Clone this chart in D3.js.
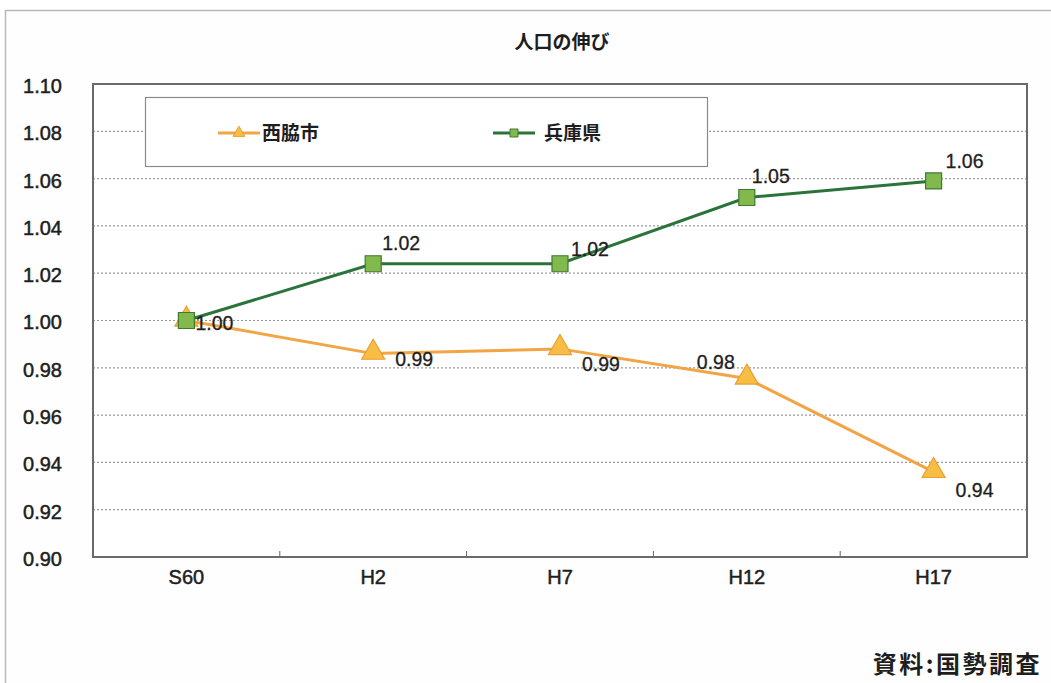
<!DOCTYPE html>
<html>
<head>
<meta charset="utf-8">
<script src="https://cdn.jsdelivr.net/npm/d3@7"></script>
<style>
  html, body { margin: 0; padding: 0; background: #ffffff; }
  svg { display: block; }
  text { font-family: "Liberation Sans", Arial, "Noto Sans CJK JP", sans-serif; }
  .jp { font-family: "Noto Sans CJK JP", sans-serif; }
</style>
</head>
<body>
<svg id="chart" width="1051" height="683"></svg>
<script>
// Census years (Showa 60 → Heisei 17)
const categories = ["S60", "H2", "H7", "H12", "H17"];
// Population growth index relative to S60
const nishiwaki = [1.000, 0.986, 0.988, 0.9755, 0.936];
const hyogo = [1.000, 1.024, 1.024, 1.052, 1.059];
const seriesNames = ["西脇市", "兵庫県"];
const yTicks = [0.90, 0.92, 0.94, 0.96, 0.98, 1.00, 1.02, 1.04, 1.06, 1.08, 1.10];

const svg = d3.select("#chart");
const W = 1051, H = 683;
const plot = { left: 93, top: 84, right: 1027, bottom: 557 };
const ink = "#1e1e1e";
const latin = "Liberation Sans, Arial, sans-serif";

// outer frame
svg.append("rect").attr("x", 5.5).attr("y", 10.5).attr("width", W).attr("height", H)
  .attr("fill", "#fefefe").attr("stroke", "#b8b8b8").attr("stroke-width", 1.5);

const x = d3.scaleBand().domain(categories).range([plot.left, plot.right]);
const y = d3.scaleLinear().domain([0.90, 1.10]).range([plot.bottom, plot.top]);

// plot area
svg.append("rect").attr("x", plot.left).attr("y", plot.top)
  .attr("width", plot.right - plot.left).attr("height", plot.bottom - plot.top)
  .attr("fill", "#ffffff");

// dotted gridlines
svg.append("g").selectAll("line").data(yTicks.filter(t => t > 0.901 && t < 1.099)).join("line")
  .attr("x1", plot.left).attr("x2", plot.right)
  .attr("y1", d => y(d)).attr("y2", d => y(d))
  .attr("stroke", "#9a9a9a").attr("stroke-width", 1.2).attr("stroke-dasharray", "2,2");

// y axis labels
const yAxis = d3.axisLeft(y).tickValues(yTicks).tickFormat(d3.format(".2f")).tickSize(0).tickPadding(31);
const gy = svg.append("g").attr("transform", `translate(${plot.left},2)`).call(yAxis);
gy.select(".domain").remove();
gy.selectAll("text").attr("font-size", 20).attr("fill", ink)
  .attr("stroke", ink).attr("stroke-width", 0.5)
  .attr("font-family", latin);

// x axis: ticks between categories, labels below
const xAxis = d3.axisBottom(x).tickSize(0).tickPadding(13);
const gx = svg.append("g").attr("transform", `translate(0,${plot.bottom})`).call(xAxis);
gx.select(".domain").remove();
gx.selectAll("text").attr("font-size", 20).attr("fill", ink)
  .attr("stroke", ink).attr("stroke-width", 0.5)
  .attr("font-family", latin);
svg.append("g").selectAll("line").data(categories.slice(1)).join("line")
  .attr("x1", d => x(d)).attr("x2", d => x(d))
  .attr("y1", plot.bottom).attr("y2", plot.bottom - 6)
  .attr("stroke", "#666").attr("stroke-width", 1);

// plot border
svg.append("rect").attr("x", plot.left).attr("y", plot.top)
  .attr("width", plot.right - plot.left).attr("height", plot.bottom - plot.top)
  .attr("fill", "none").attr("stroke", "#6a6a6a").attr("stroke-width", 2);

// title
svg.append("text").attr("class", "jp").attr("x", 562).attr("y", 49)
  .attr("text-anchor", "middle").attr("font-size", 19).attr("font-weight", "bold")
  .attr("fill", ink).text("人口の伸び");

const cx = d => x(d) + x.bandwidth() / 2;
const styles = {
  orange: { line: "#f2a544", fill: "#f7bd45", stroke: "#e8a030" },
  green: { line: "#2b7439", fill: "#82b94c", stroke: "#3f7a30" }
};
const line = d3.line().x(d => cx(d.cat)).y(d => y(d.v));

function drawSeries(values, st, marker) {
  const pts = categories.map((c, i) => ({ cat: c, v: values[i] }));
  svg.append("path").datum(pts).attr("d", line).attr("fill", "none")
    .attr("stroke", st.line).attr("stroke-width", 3);
  const sym = d3.symbol().type(marker).size(marker === d3.symbolSquare ? 256 : 230);
  svg.append("g").selectAll("path").data(pts).join("path")
    .attr("d", sym)
    .attr("transform", d => `translate(${cx(d.cat)},${y(d.v) + (marker === d3.symbolTriangle ? -1 : 0)})`)
    .attr("fill", st.fill).attr("stroke", st.stroke).attr("stroke-width", 1.2);
  return pts;
}

const nPts = drawSeries(nishiwaki, styles.orange, d3.symbolTriangle);
const hPts = drawSeries(hyogo, styles.green, d3.symbolSquare);

// value labels (offsets from each marker)
const fmt = d3.format(".2f");
const nOffsets = [[9, 9], [22, 12], [22, 22], [-50, -9], [22, 25]];
const hOffsets = [null, [9, -14], [11, -8], [5, -15], [12, -13]];
function drawLabels(pts, offs) {
  svg.append("g").selectAll("text").data(pts.filter((d, i) => offs[i]))
    .join("text")
    .attr("x", d => cx(d.cat) + offs[categories.indexOf(d.cat)][0])
    .attr("y", d => y(d.v) + offs[categories.indexOf(d.cat)][1])
    .attr("font-size", 19.5).attr("fill", ink)
    .attr("stroke", ink).attr("stroke-width", 0.3)
    .attr("font-family", latin)
    .text(d => fmt(d.v));
}
drawLabels(nPts, nOffsets);
drawLabels(hPts, hOffsets);

// legend
const lg = svg.append("g");
lg.append("rect").attr("x", 145.5).attr("y", 97.5).attr("width", 562).attr("height", 69)
  .attr("fill", "#ffffff").attr("stroke", "#8a8a8a").attr("stroke-width", 1.2);
const legendItems = [
  { name: seriesNames[0], st: styles.orange, marker: d3.symbolTriangle, x0: 218, tx: 262 },
  { name: seriesNames[1], st: styles.green, marker: d3.symbolSquare, x0: 493, tx: 544 }
];
legendItems.forEach(it => {
  const ly = 133;
  lg.append("line").attr("x1", it.x0).attr("x2", it.x0 + 42).attr("y1", ly).attr("y2", ly)
    .attr("stroke", it.st.line).attr("stroke-width", 3);
  lg.append("path").attr("d", d3.symbol().type(it.marker).size(it.marker === d3.symbolSquare ? 64 : 60))
    .attr("transform", `translate(${it.x0 + 21},${ly})`)
    .attr("fill", it.st.fill).attr("stroke", it.st.stroke).attr("stroke-width", 1);
  lg.append("text").attr("class", "jp").attr("x", it.tx).attr("y", ly + 7)
    .attr("font-size", 19).attr("font-weight", "bold").attr("fill", ink).text(it.name);
});

// source note
svg.append("text").attr("class", "jp").attr("x", 1042).attr("y", 673)
  .attr("text-anchor", "end").attr("font-size", 24).attr("font-weight", "bold")
  .attr("letter-spacing", 2.5)
  .attr("fill", ink).text("資料:国勢調査");
</script>
</body>
</html>
